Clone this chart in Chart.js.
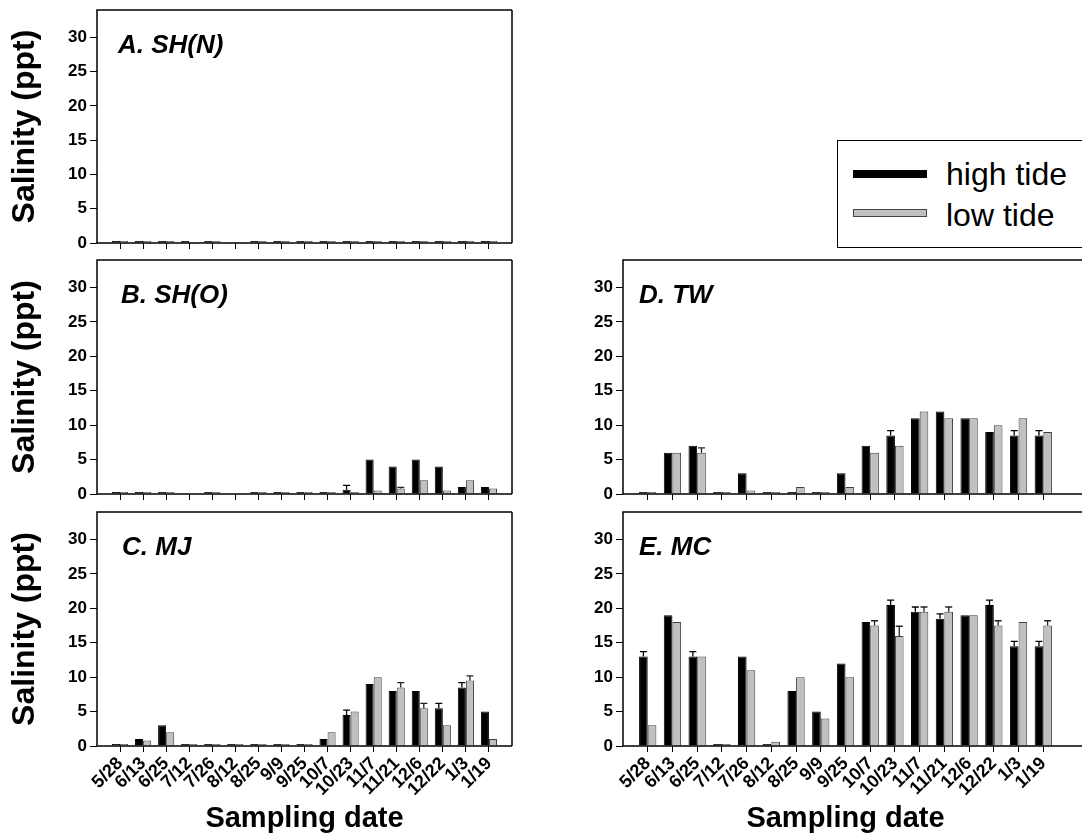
<!DOCTYPE html>
<html>
<head>
<meta charset="utf-8">
<script src="https://cdn.jsdelivr.net/npm/chart.js@4.4.1/dist/chart.umd.min.js"></script>
<style>
  html, body { margin: 0; padding: 0; background: #fff; }
  body { width: 1082px; height: 836px; overflow: hidden; position: relative; font-family: 'Liberation Sans', Arial, sans-serif; }
  canvas { position: absolute; }
  #legend { position: absolute; left: 837px; top: 140px; width: 280px; height: 108px; border: 1.5px solid #000; box-sizing: border-box; }
  .mark { position: absolute; left: 853px; width: 74px; box-sizing: border-box; }
  .txt { position: absolute; left: 946px; font-size: 32px; line-height: 32px; color: #000; white-space: nowrap; }
</style>
</head>
<body>
<canvas id="pA" width="520" height="255" style="left:0;top:0"></canvas>
<canvas id="pB" width="520" height="255" style="left:0;top:250px"></canvas>
<canvas id="pC" width="520" height="336" style="left:0;top:500px"></canvas>
<canvas id="pD" width="552" height="255" style="left:530px;top:250px"></canvas>
<canvas id="pE" width="552" height="336" style="left:530px;top:500px"></canvas>

<div id="legend"></div>
<div class="mark" style="top:170px;height:8px;background:#000"></div>
<div class="txt" style="top:158px">high tide</div>
<div class="mark" style="top:209px;height:8px;background:#c0c0c0;border:1px solid #444"></div>
<div class="txt" style="top:199px">low tide</div>

<script>
// sampling dates
let dates = ['5/28','6/13','6/25','7/12','7/26','8/12','8/25','9/9','9/25','10/7','10/23','11/7','11/21','12/6','12/22','1/3','1/19'];

// A. SH(N)  (null = no bar drawn)
let shnHigh = [0.1,0.1,0.1,0.1,0.1,null,0.1,0.1,0.1,0.1,0.1,0.1,0.15,0.15,0.25,0.15,0.1];
let shnLow  = [0.1,0.1,0.1,null,0.1,null,0.1,0.1,0.1,0.1,0.1,0.1,0.1,0.15,0.15,0.15,0.1];

// B. SH(O)
let shoHigh = [0.1,0.1,0.1,null,0.2,null,0.1,0.1,0.1,0.2,0.6,5,4,5,4,1,1];
let shoLow  = [0.1,0.1,0.1,null,0.2,null,0.1,0.1,0.1,0.2,0.2,0.5,0.8,2,0.5,2,0.8];
let shoHighErr = [0,0,0,0,0,0,0,0,0,0,0.65,0,0,0,0,0,0];
let shoLowErr  = [0,0,0,0,0,0,0,0,0,0,0,0,0.15,0,0,0,0];

// C. MJ
let mjHigh = [0.1,1,3,0.1,0.2,0.1,0.1,0.1,0.2,1,4.5,9,8,8,5.5,8.5,5];
let mjLow  = [0.1,0.8,2,0.1,0.3,0.1,0.1,0.1,0.1,2,5,10,8.5,5.5,3,9.5,1];
let mjHighErr = [0,0,0,0,0,0,0,0,0,0,0.7,0,0,0,0.7,0.7,0];
let mjLowErr  = [0,0,0,0,0,0,0,0,0,0,0,0,0.7,0.7,0,0.7,0];

// D. TW
let twHigh = [0.1,6,7,0.1,3,0.1,0.3,0.1,3,7,8.5,11,12,11,9,8.5,8.5];
let twLow  = [0.1,6,6,0.1,0.5,0.1,1,0.1,1,6,7,12,11,11,10,11,9];
let twHighErr = [0,0,0,0,0,0,0,0,0,0,0.7,0,0,0,0,0.7,0.7];
let twLowErr  = [0,0,0.7,0,0,0,0,0,0,0,0,0,0,0,0,0,0];

// E. MC
let mcHigh = [13,19,13,0.1,13,0.1,8,5,12,18,20.5,19.5,18.5,19,20.5,14.5,14.5];
let mcLow  = [3,18,13,0.2,11,0.6,10,4,10,17.5,16,19.5,19.5,19,17.5,18,17.5];
let mcHighErr = [0.7,0,0.7,0,0,0,0,0,0,0,0.7,0.7,0.7,0,0.7,0.7,0.7];
let mcLowErr  = [0,0,0,0,0,0,0,0,0,0.7,1.4,0.7,0.7,0,0.7,0,0.7];

Chart.defaults.font.family = "'Liberation Sans', Arial, sans-serif";
Chart.defaults.color = '#000';

// blank slot at each end keeps the padding the original axis had
const pad = arr => [null, ...arr, null];
const labels = ['', ...dates, ''];

// box round the plot area + panel letter
const frame = {
  id: 'frame',
  afterDraw(chart, args, opts) {
    const {ctx, chartArea: a} = chart;
    const right = opts.open ? chart.width : a.right;
    ctx.save();
    ctx.strokeStyle = '#000';
    ctx.lineWidth = 1.5;
    ctx.beginPath();
    ctx.moveTo(right, a.top);
    ctx.lineTo(a.left, a.top);
    ctx.lineTo(a.left, a.bottom);
    ctx.lineTo(right, a.bottom);
    if (!opts.open) {
      ctx.moveTo(a.right, a.top);
      ctx.lineTo(a.right, a.bottom);
    }
    ctx.stroke();
    ctx.font = "italic bold 26px 'Liberation Sans', Arial, sans-serif";
    ctx.fillStyle = '#000';
    ctx.textBaseline = 'alphabetic';
    ctx.fillText(opts.label, a.left + opts.dx, a.top + 43);
    ctx.restore();
  }
};

// upper error bars
const errorBars = {
  id: 'errorBars',
  afterDatasetsDraw(chart) {
    const {ctx} = chart;
    const y = chart.scales.y;
    chart.data.datasets.forEach((ds, i) => {
      if (!ds.errors) return;
      const meta = chart.getDatasetMeta(i);
      ctx.save();
      ctx.strokeStyle = ds.errColor;
      ctx.lineWidth = 1.3;
      meta.data.forEach((bar, j) => {
        const e = ds.errors[j];
        const v = ds.data[j];
        if (!e || v == null) return;
        const y0 = y.getPixelForValue(v);
        const y1 = y.getPixelForValue(v + e);
        ctx.beginPath();
        ctx.moveTo(bar.x, y0);
        ctx.lineTo(bar.x, y1);
        ctx.moveTo(bar.x - 3.5, y1);
        ctx.lineTo(bar.x + 3.5, y1);
        ctx.stroke();
      });
      ctx.restore();
    });
  }
};

function makePanel(id, p) {
  const last = labels.length - 1;
  new Chart(document.getElementById(id), {
    type: 'bar',
    data: {
      labels: labels,
      datasets: [
        {
          label: 'high tide',
          data: pad(p.high),
          errors: pad(p.highErr || []),
          errColor: '#000',
          backgroundColor: '#000',
          borderColor: '#000',
          borderWidth: 1,
          minBarLength: 2
        },
        {
          label: 'low tide',
          data: pad(p.low),
          errors: pad(p.lowErr || []),
          errColor: '#222',
          backgroundColor: '#c0c0c0',
          borderColor: '#404040',
          borderWidth: 1,
          minBarLength: 2
        }
      ]
    },
    options: {
      responsive: false,
      animation: false,
      categoryPercentage: 0.7,
      barPercentage: 1.0,
      layout: { padding: { top: p.top, right: p.right, left: 0, bottom: 0 } },
      plugins: {
        legend: { display: false },
        tooltip: { enabled: false },
        frame: { label: p.label, dx: p.dx, open: p.open }
      },
      scales: {
        x: {
          offset: false,
          afterFit: s => { s.height = p.xHeight; s.paddingLeft = 0; s.paddingRight = 0; },
          border: { display: false },
          grid: {
            display: true,
            offset: false,
            drawOnChartArea: false,
            tickLength: 6,
            tickColor: c => (c.index === 0 || c.index === last) ? 'rgba(0,0,0,0)' : '#000'
          },
          ticks: {
            display: !!p.xLabels,
            autoSkip: false,
            minRotation: 45,
            maxRotation: 45,
            padding: 1,
            font: { size: 18, weight: 'bold' },
            color: '#000'
          },
          title: {
            display: !!p.xLabels,
            text: 'Sampling date',
            font: { size: 29, weight: 'bold' },
            color: '#000',
            padding: { top: 0, bottom: 0 }
          }
        },
        y: {
          min: 0,
          max: 34,
          afterBuildTicks: s => { s.ticks = s.ticks.filter(t => t.value % 5 === 0); },
          afterFit: s => { s.width = p.yWidth; s.paddingTop = 0; s.paddingBottom = 0; },
          border: { display: false },
          grid: { display: true, drawOnChartArea: false, tickLength: 7, color: '#000', tickColor: '#000' },
          ticks: { stepSize: 5, padding: 3, font: { size: 17, weight: 'bold' }, color: '#000' },
          title: {
            display: !!p.yTitle,
            text: 'Salinity (ppt)',
            font: { size: 32, weight: 'bold' },
            color: '#000',
            padding: { top: 6, bottom: 0 }
          }
        }
      }
    },
    plugins: [frame, errorBars]
  });
}

makePanel('pA', { high: shnHigh, low: shnLow, label: 'A. SH(N)', dx: 21, top: 10, right: 8, yWidth: 97, xHeight: 12, yTitle: true });
makePanel('pB', { high: shoHigh, low: shoLow, highErr: shoHighErr, lowErr: shoLowErr, label: 'B. SH(O)', dx: 24, top: 10, right: 8, yWidth: 97, xHeight: 11, yTitle: true });
makePanel('pC', { high: mjHigh, low: mjLow, highErr: mjHighErr, lowErr: mjLowErr, label: 'C. MJ', dx: 25, top: 12, right: 8, yWidth: 97, xHeight: 90, yTitle: true, xLabels: true });
makePanel('pD', { high: twHigh, low: twLow, highErr: twHighErr, lowErr: twLowErr, label: 'D. TW', dx: 16, top: 10, right: 14, yWidth: 93, xHeight: 11, open: true });
makePanel('pE', { high: mcHigh, low: mcLow, highErr: mcHighErr, lowErr: mcLowErr, label: 'E. MC', dx: 16, top: 12, right: 14, yWidth: 93, xHeight: 90, open: true, xLabels: true });
</script>
</body>
</html>
